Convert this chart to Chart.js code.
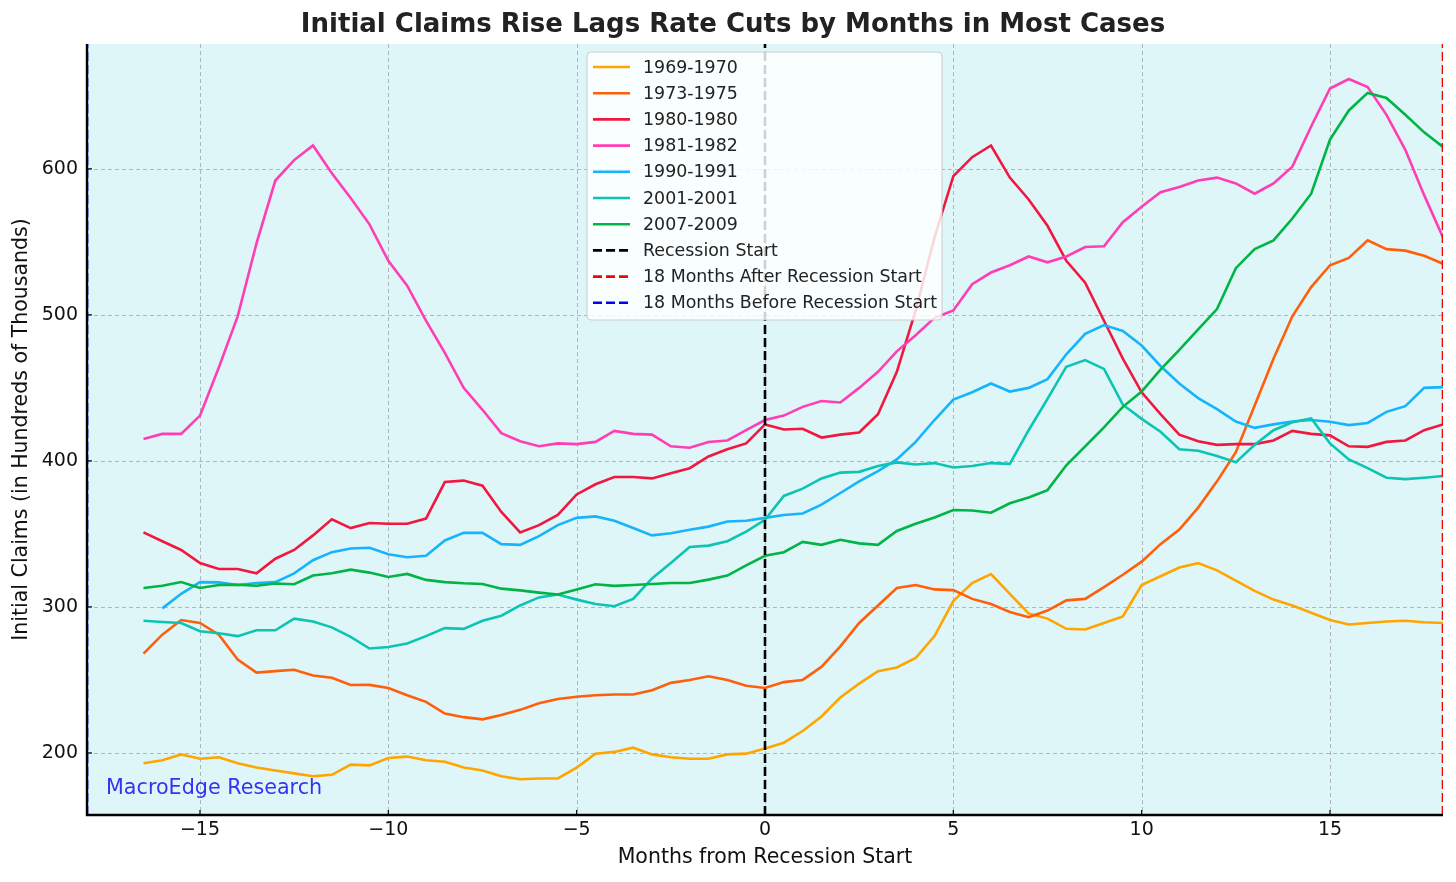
<!DOCTYPE html>
<html>
<head>
<meta charset="utf-8">
<script src="https://cdn.jsdelivr.net/npm/chart.js@4.4.0/dist/chart.umd.min.js"></script>
<style>
  html, body { margin: 0; padding: 0; background: #fff; }
  #wrap { width: 1456px; height: 882px; }
</style>
</head>
<body>
<div id="wrap"><canvas id="chart" width="1456" height="882"></canvas></div>
<script>
// months from recession start (half-month samples)
const months = [
  -16.5, -16, -15.5, -15, -14.5, -14, -13.5, -13, -12.5, -12,
  -11.5, -11, -10.5, -10, -9.5, -9, -8.5, -8, -7.5, -7,
  -6.5, -6, -5.5, -5, -4.5, -4, -3.5, -3, -2.5, -2,
  -1.5, -1, -0.5, 0, 0.5, 1, 1.5, 2, 2.5, 3,
  3.5, 4, 4.5, 5, 5.5, 6, 6.5, 7, 7.5, 8,
  8.5, 9, 9.5, 10, 10.5, 11, 11.5, 12, 12.5, 13,
  13.5, 14, 14.5, 15, 15.5, 16, 16.5, 17, 17.5, 18
];

// initial claims, hundreds of thousands
const claims1969 = [
  193, 195, 199, 196, 197, 193, 190, 188, 186, 184,
  185, 192, 191.5, 196.5, 197.5, 195, 194, 190, 188, 184,
  182, 182.5, 182.5, 190, 199.5, 200.7, 203.6, 199, 197, 196,
  196, 199, 199.5, 203, 207, 215, 225, 238, 247.5, 256,
  258.5, 265, 280, 304, 316.4, 322.5, 309, 295.5, 292, 285,
  284.5, 289, 293.5, 315, 321, 327, 330, 325, 318, 311,
  305, 301, 296, 291, 288, 289, 290, 290.5, 289.5, 289
];
const claims1973 = [
  268, 281, 291, 289, 281, 264, 255, 256, 257, 253,
  251.5, 246.5, 246.6, 244.5, 239.5, 235, 227, 224.5, 223, 226,
  229.5, 234, 237, 238.5, 239.5, 240, 240, 243, 248, 250,
  252.5, 250, 246, 244.5, 248.5, 250, 259, 273, 289, 301,
  313, 315, 312, 311.5, 305.5, 302, 296.5, 293, 297.5, 304.5,
  305.5, 313.5, 322, 331, 343, 353, 368, 386, 406, 438,
  470, 499, 519, 534, 539, 551, 545, 544, 540.5, 535
];
const claims1980 = [
  351, 345, 339, 330, 326, 326, 323, 333, 339, 349,
  360, 354, 357.5, 357, 357, 360.5, 385.5, 386.5, 383, 365,
  351, 356, 363, 377, 384, 389, 389, 388, 391.5, 395,
  403, 408, 412, 425, 421.5, 422, 416, 418, 419.5, 432,
  461, 503, 553, 595, 608, 616, 594, 579, 561, 537,
  522, 496, 470, 447, 432, 418, 413.5, 411, 411.5, 411.5,
  414, 420.5, 418.5, 417.5, 410, 409.6, 413, 414, 421, 425
];
const claims1981 = [
  415, 418.5, 418.5, 431, 464, 499, 549, 592, 606, 616,
  597, 580, 562, 537, 520, 496, 474, 450, 435, 419,
  413.5, 410, 412, 411.5, 413, 420.5, 418.5, 418, 410, 409,
  413, 414, 421, 428, 431, 437, 441, 440, 450, 461,
  475, 486, 498, 503, 521, 529, 534, 540, 536, 540,
  546.5, 547, 563.5, 574, 584, 587.5, 592, 594, 590, 583,
  590, 601.5, 629, 655, 661.5, 656, 637, 613, 582, 553
];
const claims1990 = [
  null, 299, 309, 317, 316.8, 315, 316.4, 317, 323, 332,
  337.5, 340, 340.5, 336, 334, 335, 345.5, 350.7, 350.7, 343,
  342.5, 348.5, 356, 361, 362, 359, 354, 349, 350.5, 352.8,
  355, 358.5, 359, 361, 363, 364, 370, 378, 386, 393,
  401, 413, 428, 442, 447, 453, 447.5, 450, 456, 473,
  487, 493, 489, 479, 465, 453, 443, 435.5, 427, 422.6,
  425, 427, 428, 426.8, 424.5, 426, 433.6, 437.5, 450, 450.5
];
const claims2001 = [
  290.5, 289.7, 289, 283.3, 282, 280, 284, 284, 292, 290,
  286, 279.5, 271.5, 272.5, 275, 280, 285.5, 285, 290.5, 294,
  301, 306.5, 308.5, 305, 302, 300.5, 305.5, 319.5, 330, 341,
  342, 345, 351.5, 359.6, 376, 381, 388, 392, 392.5, 396.5,
  399, 397.5, 398.5, 395.5, 396.5, 398.5, 398, 421, 442.5, 464.5,
  469, 463, 438.5, 428.8, 420, 408, 407, 403.4, 399, 411,
  421, 426.5, 429, 412, 401, 395, 388.5, 387.5, 388.5, 389.7
];
const claims2007 = [
  313, 314.5, 317, 313, 315, 315.2, 314.5, 316, 315.5, 321.5,
  323, 325.5, 323.5, 320.5, 322.6, 318.5, 317, 316.2, 315.7, 312.5,
  311.3, 309.8, 308.5, 312, 315.5, 314.4, 315, 315.7, 316.4, 316.4,
  318.7, 321.5, 328.5, 335, 337.5, 344.5, 342.5, 346, 343.5, 342.5,
  352, 357, 361.3, 366.4, 366, 364.5, 371, 375, 380, 397,
  410, 423, 437, 447.5, 462.5, 476, 490, 504, 532, 545,
  551, 566, 583, 620, 640, 652, 648.5, 637, 625, 615
];

const seriesNames = ['1969-1970', '1973-1975', '1980-1980', '1981-1982', '1990-1991', '2001-2001', '2007-2009'];
const seriesValues = [claims1969, claims1973, claims1980, claims1981, claims1990, claims2001, claims2007];
const seriesColors = ['#ffa500', '#ff5f0a', '#f0183f', '#ff3db4', '#16b4fb', '#0cc4b4', '#00b446'];

const markerNames = ['Recession Start', '18 Months After Recession Start', '18 Months Before Recession Start'];
const markerMonths = [0, 18, -18];
const markerColors = ['#000000', '#ff0000', '#0000ff'];

const xTicks = [-15, -10, -5, 0, 5, 10, 15];
const yTicks = [200, 300, 400, 500, 600];
const yMin = 157.5, yMax = 685.5;

const FONT = 'DejaVu Sans';
Chart.defaults.font.family = FONT;

const datasets = [];
seriesNames.forEach((name, i) => {
  datasets.push({
    label: name,
    data: months.map((m, j) => ({ x: m, y: seriesValues[i][j] })),
    borderColor: seriesColors[i],
    borderWidth: 2.6,
    borderDash: [],
  });
});
markerNames.forEach((name, i) => {
  datasets.push({
    label: name,
    data: [{ x: markerMonths[i], y: yMin }, { x: markerMonths[i], y: yMax }],
    borderColor: markerColors[i],
    borderWidth: 2.6,
    borderDash: [9, 4],
  });
});
// later datasets on top, like the original
datasets.forEach((d, i) => { d.order = datasets.length - i; });

const fmt = (v) => (v < 0 ? '\u2212' + Math.abs(v) : String(v));

const decor = {
  id: 'decor',
  beforeDraw(c) {
    const { ctx, chartArea: a } = c;
    ctx.save();
    ctx.fillStyle = '#ffffff';
    ctx.fillRect(0, 0, c.width, c.height);
    ctx.fillStyle = '#dff6f9';
    ctx.fillRect(a.left, a.top, a.right - a.left, a.bottom - a.top);
    // dashed grid
    ctx.strokeStyle = 'rgba(160,160,160,0.75)';
    ctx.lineWidth = 1;
    ctx.setLineDash([4, 3]);
    xTicks.forEach((v) => {
      const px = Math.round(c.scales.x.getPixelForValue(v)) + 0.5;
      ctx.beginPath(); ctx.moveTo(px, a.top); ctx.lineTo(px, a.bottom); ctx.stroke();
    });
    yTicks.forEach((v) => {
      const py = Math.round(c.scales.y.getPixelForValue(v)) + 0.5;
      ctx.beginPath(); ctx.moveTo(a.left, py); ctx.lineTo(a.right, py); ctx.stroke();
    });
    ctx.restore();
  },
  afterDatasetsDraw(c) {
    const { ctx, chartArea: a } = c;
    ctx.save();
    // spines + inward ticks
    ctx.strokeStyle = '#000';
    ctx.lineWidth = 2.4;
    ctx.beginPath();
    ctx.moveTo(a.left, a.top); ctx.lineTo(a.left, a.bottom); ctx.lineTo(a.right, a.bottom);
    ctx.stroke();
    ctx.lineWidth = 1.2;
    xTicks.forEach((v) => {
      const px = c.scales.x.getPixelForValue(v);
      ctx.beginPath(); ctx.moveTo(px, a.bottom); ctx.lineTo(px, a.bottom - 5); ctx.stroke();
    });
    yTicks.forEach((v) => {
      const py = c.scales.y.getPixelForValue(v);
      ctx.beginPath(); ctx.moveTo(a.left, py); ctx.lineTo(a.left + 5, py); ctx.stroke();
    });

    // legend
    const lx = 587, ly = 52, lw = 355, lh = 268, rowH = 26.2;
    ctx.fillStyle = 'rgba(255,255,255,0.82)';
    ctx.strokeStyle = '#cccccc';
    ctx.lineWidth = 1;
    ctx.beginPath();
    ctx.roundRect(lx, ly, lw, lh, 4);
    ctx.fill(); ctx.stroke();
    ctx.font = '17.4px "' + FONT + '"';
    ctx.textBaseline = 'middle';
    ctx.textAlign = 'left';
    c.data.datasets.forEach((d, i) => {
      const y = ly + 15 + i * rowH;
      ctx.strokeStyle = d.borderColor;
      ctx.lineWidth = 2.6;
      ctx.setLineDash(d.borderDash);
      ctx.beginPath(); ctx.moveTo(lx + 6, y); ctx.lineTo(lx + 43, y); ctx.stroke();
      ctx.setLineDash([]);
      ctx.fillStyle = '#222';
      ctx.fillText(d.label, lx + 56, y + 1);
    });

    // watermark
    ctx.fillStyle = '#3434ee';
    ctx.font = '20.7px "' + FONT + '"';
    ctx.fillText('MacroEdge Research', 106, 789);

    // title
    ctx.fillStyle = '#222';
    ctx.font = 'bold 26px "' + FONT + '"';
    ctx.textAlign = 'center';
    ctx.fillText('Initial Claims Rise Lags Rate Cuts by Months in Most Cases', 733, 25);
    ctx.restore();
  }
};

new Chart(document.getElementById('chart'), {
  type: 'line',
  data: { datasets },
  options: {
    responsive: false,
    devicePixelRatio: 1,
    animation: false,
    layout: { padding: { top: 44, right: 13, left: 0, bottom: 0 } },
    plugins: { legend: { display: false }, tooltip: { enabled: false } },
    elements: { point: { radius: 0 }, line: { tension: 0 } },
    scales: {
      x: {
        type: 'linear', min: -18, max: 18,
        afterFit: (s) => { s.height = 67; },
        afterBuildTicks: (s) => { s.ticks = xTicks.map((v) => ({ value: v })); },
        grid: { display: false, drawTicks: false },
        border: { display: false },
        ticks: { autoSkip: false, maxRotation: 0, padding: 4, color: '#111', font: { size: 19 }, callback: fmt },
        title: { display: true, text: 'Months from Recession Start', color: '#111', font: { size: 20.5 }, padding: { top: 0, bottom: 12 } }
      },
      y: {
        type: 'linear', min: yMin, max: yMax,
        afterFit: (s) => { s.width = 87; },
        afterBuildTicks: (s) => { s.ticks = yTicks.map((v) => ({ value: v })); },
        grid: { display: false, drawTicks: false },
        border: { display: false },
        ticks: { autoSkip: false, padding: 9, color: '#111', font: { size: 19 }, callback: fmt },
        title: { display: true, text: 'Initial Claims (in Hundreds of Thousands)', color: '#111', font: { size: 20.5 }, padding: { top: 9, bottom: 0 } }
      }
    }
  },
  plugins: [decor]
});
</script>
</body>
</html>
